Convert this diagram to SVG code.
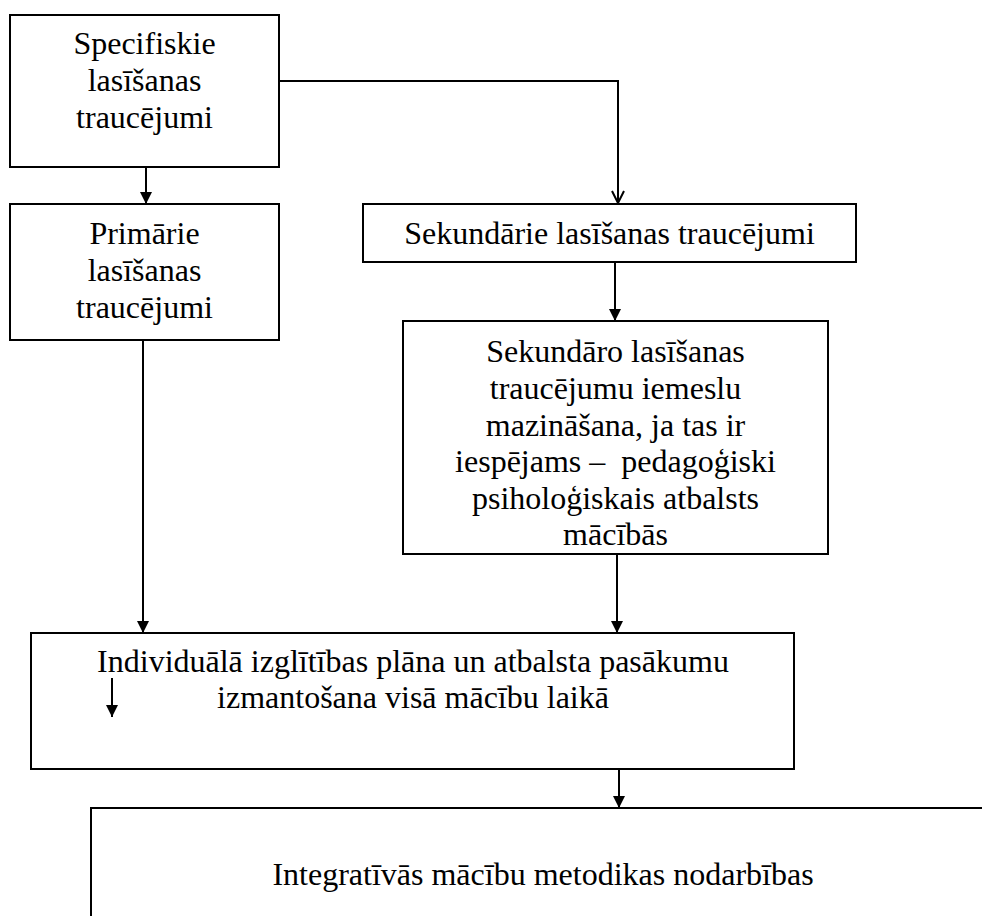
<svg xmlns="http://www.w3.org/2000/svg" width="982" height="916" viewBox="0 0 982 916">
<style>
.box{fill:#fff;stroke:#000;stroke-width:2}
.t{font-family:"Liberation Serif","Times New Roman",serif;font-size:32px;fill:#000;text-anchor:middle}
.c{fill:none;stroke:#000;stroke-width:2}
</style>
<defs>
<marker id="ah" markerWidth="12" markerHeight="12" refX="12" refY="6" orient="auto" markerUnits="userSpaceOnUse">
<path d="M0,0 L12,6 L0,12 Z" fill="#000"/>
</marker>
<marker id="ao" markerWidth="14" markerHeight="14" refX="13" refY="7" orient="auto" markerUnits="userSpaceOnUse">
<path d="M1,1 L13,7 L1,13" fill="none" stroke="#000" stroke-width="2"/>
</marker>
</defs>
<rect width="982" height="916" fill="#fff"/>
<g id="n1">
<rect class="box" x="10" y="15" width="269" height="152"/>
<text class="t" x="144.5" y="54">Specifiskie</text>
<text class="t" x="144.5" y="91">lasīšanas</text>
<text class="t" x="144.5" y="128">traucējumi</text>
</g>
<g id="n2">
<rect class="box" x="10" y="204" width="269" height="136"/>
<text class="t" x="144.5" y="244">Primārie</text>
<text class="t" x="144.5" y="281">lasīšanas</text>
<text class="t" x="144.5" y="318">traucējumi</text>
</g>
<g id="n3">
<rect class="box" x="363" y="204" width="493" height="58"/>
<text class="t" x="609.5" y="244">Sekundārie lasīšanas traucējumi</text>
</g>
<g id="n4">
<rect class="box" x="403" y="321" width="425" height="233"/>
<text class="t" x="615.5" y="362">Sekundāro lasīšanas</text>
<text class="t" x="615.5" y="399">traucējumu iemeslu</text>
<text class="t" x="615.5" y="436">mazināšana, ja tas ir</text>
<text class="t" x="615.5" y="472" xml:space="preserve">iespējams –  pedagoģiski</text>
<text class="t" x="615.5" y="509">psiholoģiskais atbalsts</text>
<text class="t" x="615.5" y="545">mācībās</text>
</g>
<g id="n5">
<rect class="box" x="31" y="633" width="763" height="136"/>
<text class="t" x="413" y="672">Individuālā izglītības plāna un atbalsta pasākumu</text>
<text class="t" x="413" y="708">izmantošana visā mācību laikā</text>
</g>
<g id="n6">
<rect class="box" x="91" y="808" width="900" height="120"/>
<text class="t" x="543" y="885">Integratīvās mācību metodikas nodarbības</text>
</g>
<g id="connectors">
<path class="c" d="M146,167 V204" marker-end="url(#ah)"/>
<path class="c" d="M279,81 H618 V203" marker-end="url(#ao)"/>
<path class="c" d="M615,262 V321" marker-end="url(#ah)"/>
<path class="c" d="M143,340 V633" marker-end="url(#ah)"/>
<path class="c" d="M617,554 V633" marker-end="url(#ah)"/>
<path class="c" d="M619,769 V808" marker-end="url(#ah)"/>
<path class="c" d="M112,678 V717" marker-end="url(#ah)"/>
</g>
</svg>
